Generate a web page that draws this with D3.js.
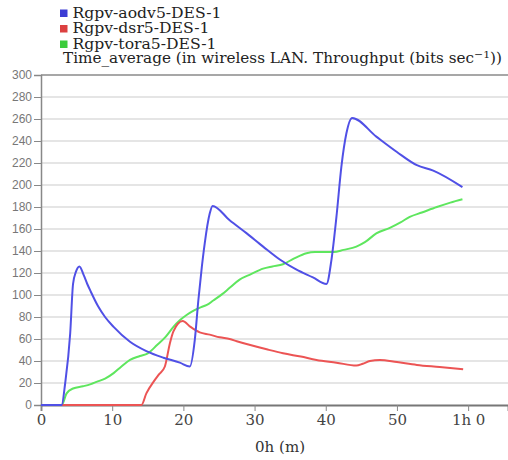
<!DOCTYPE html>
<html><head><meta charset="utf-8">
<script src="https://cdn.jsdelivr.net/npm/d3@7"></script>
<style>
body{margin:0;background:#fff;}
svg{display:block;}
.serif{font-family:"DejaVu Serif","Liberation Serif",serif;}
.sans{font-family:"Liberation Sans",Arial,sans-serif;}
</style></head>
<body>
<svg id="chart" width="508" height="460"></svg>
<script>
const seriesNames = ["Rgpv-aodv5-DES-1", "Rgpv-dsr5-DES-1", "Rgpv-tora5-DES-1"];
const titleText = "Time_average (in wireless LAN. Throughput (bits sec";
const xTitle = "0h (m)";
const xTickValues = [0, 10, 20, 30, 40, 50, 60];
const xTickLabels = ["0", "10", "20", "30", "40", "50", "1h 0"];
const yTickValues = [0, 20, 40, 60, 80, 100, 120, 140, 160, 180, 200, 220, 240, 260, 280, 300];

const aodvX = [0, 2.9, 3.4, 4.1, 4.5, 4.9, 5.4, 6.0, 6.5, 7.0, 8.0, 9.0, 10.2, 12.5, 14.8, 17.2, 19.5, 20.9, 21.6, 22.1, 22.6, 23.0, 23.7, 24.1, 26.5, 28.9, 31.2, 33.6, 35.9, 38.2, 40.1, 40.8, 41.5, 42.2, 42.9, 43.7, 47.1, 50.0, 52.8, 55.1, 59.2];
const aodvY = [0, 0, 20, 65, 110, 121, 126, 118, 110, 103, 90, 80, 71, 57.5, 49, 43, 38.5, 35, 59, 95, 126, 147, 174, 181, 168, 156, 144, 132, 123, 116, 110, 132, 171, 217, 247, 261, 244, 230, 218, 213, 198];

const dsrX = [0, 14.1, 14.8, 15.8, 16.6, 17.4, 18.1, 18.6, 19.9, 21.0, 22.3, 23.7, 25.1, 26.5, 27.5, 29.4, 31.7, 34.0, 36.5, 38.7, 41.5, 44.3, 45.2, 46.2, 47.6, 50.0, 52.8, 56.0, 59.3];
const dsrY = [0, 0, 10.6, 21, 28, 35, 56, 67, 76.4, 71, 66, 64, 61.5, 60, 58, 54.5, 50.6, 47, 44, 41, 38.5, 35.8, 37.5, 40, 41, 39, 36.4, 34.5, 32.4];

const toraX = [0, 2.9, 3.6, 4.5, 5.9, 7.0, 7.8, 9.0, 10.2, 11.3, 12.5, 13.9, 15.0, 16.3, 17.5, 18.6, 19.5, 20.5, 21.5, 22.5, 23.3, 24.2, 25.5, 26.5, 27.9, 29.5, 31.2, 32.5, 34.0, 35.5, 37.3, 38.5, 39.6, 41.1, 42.5, 44.3, 45.5, 47.1, 49.0, 50.5, 51.8, 53.5, 55.6, 57.5, 59.2];
const toraY = [0, 0, 10.6, 15, 17, 19, 21, 24, 29, 35, 41, 44.5, 47, 54.5, 62, 71, 77, 82, 86, 89, 91, 95, 101, 106.5, 114, 119, 124, 126, 128, 133, 138, 139, 139, 139, 141, 144, 148, 156, 161, 166, 171, 175, 180, 184, 187];

const colors = ["#5050e6", "#ec5454", "#5ee65e"];
const swatchColors = ["#3c3cd4", "#dc4040", "#3ccc3c"];

const svg = d3.select("#chart");
const x = d3.scaleLinear().domain([0, 65.6]).range([41, 508]);
const y = d3.scaleLinear().domain([0, 300]).range([405, 75]);

// grid
svg.append("g").selectAll("line").data(yTickValues.filter(v => v > 0 && v < 300)).join("line")
  .attr("x1", x(0)).attr("x2", x(65.6))
  .attr("y1", d => y(d)).attr("y2", d => y(d))
  .attr("stroke", "#dcdcdc").attr("stroke-width", 1.6);
svg.append("line").attr("x1", x(0)).attr("x2", x(65.6)).attr("y1", y(300)).attr("y2", y(300))
  .attr("stroke", "#8a8a8a").attr("stroke-width", 1.6);

// y axis
const yAxis = svg.append("g").attr("transform", `translate(${x(0)},0)`)
  .call(d3.axisLeft(y).tickValues(yTickValues).tickSize(7).tickPadding(2));
yAxis.attr("font-family", null);
yAxis.select(".domain").attr("stroke", "#888").attr("stroke-width", 1.5);
yAxis.selectAll(".tick line").attr("stroke", "#888");
yAxis.selectAll("text").attr("class", "sans")
  .attr("font-size", 12).attr("fill", "#777");

// x axis
const xAxis = svg.append("g").attr("transform", `translate(0,${y(0)})`)
  .call(d3.axisBottom(x).tickValues(xTickValues).tickFormat((d, i) => xTickLabels[i]).tickSize(6).tickPadding(4));
xAxis.attr("font-family", null);
xAxis.select(".domain").attr("stroke", "#777").attr("stroke-width", 1.8);
xAxis.selectAll(".tick line").attr("stroke", "#888");
xAxis.selectAll("text").attr("class", "serif")
  .attr("font-size", 15).attr("fill", "#444").attr("dy", "0.68em");

// lines
const line = d3.line().x(d => x(d[0])).y(d => y(d[1])).curve(d3.curveMonotoneX);
const series = [
  {xs: toraX, ys: toraY, c: colors[2]},
  {xs: dsrX, ys: dsrY, c: colors[1]},
  {xs: aodvX, ys: aodvY, c: colors[0]},
];
series.forEach(s => {
  svg.append("path").datum(s.xs.map((v, i) => [v, s.ys[i]]))
    .attr("d", line).attr("fill", "none").attr("stroke", s.c).attr("stroke-width", 2)
    .attr("stroke-linejoin", "round");
});

// legend
const legendY = [13, 28.5, 44];
seriesNames.forEach((n, i) => {
  svg.append("rect").attr("x", 60).attr("y", legendY[i] - 3.5).attr("width", 7.5).attr("height", 7.5)
    .attr("fill", swatchColors[i]);
  svg.append("text").attr("class", "serif").attr("x", 72.5).attr("y", legendY[i] + 4.5)
    .attr("font-size", 14)
    .attr("fill", "#222").attr("textLength", [149, 137, 144][i]).attr("lengthAdjust", "spacingAndGlyphs")
    .text(n);
});

// title
const t = svg.append("text").attr("class", "serif").attr("x", 63).attr("y", 63)
  .attr("font-size", 14)
  .attr("fill", "#222").attr("textLength", 439).attr("lengthAdjust", "spacingAndGlyphs");
t.append("tspan").text(titleText);
t.append("tspan").attr("dy", -5).attr("font-size", 10).text("−1");
t.append("tspan").attr("dy", 5).text("))");

// x title
svg.append("text").attr("class", "serif").attr("x", 280).attr("y", 452).attr("text-anchor", "middle")
  .attr("font-size", 15)
  .attr("fill", "#333").attr("textLength", 50).attr("lengthAdjust", "spacingAndGlyphs")
  .text(xTitle);
</script>
</body></html>
